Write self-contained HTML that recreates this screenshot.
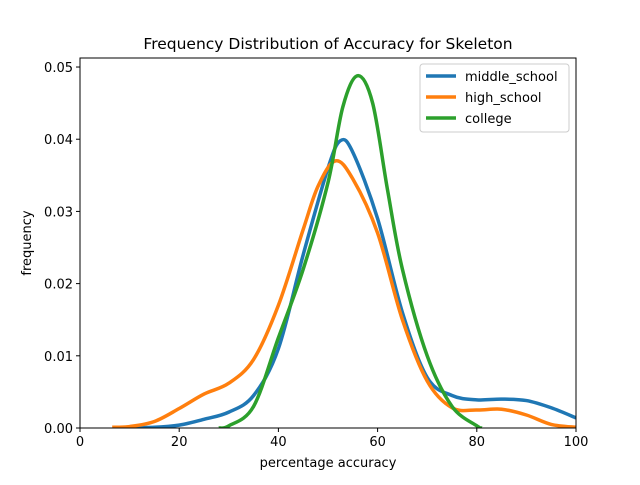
<!DOCTYPE html>
<html><head><meta charset="utf-8"><style>
body{margin:0;background:#fff;}
svg{font-family:"DejaVu Sans","Liberation Sans",sans-serif;}
</style></head><body>
<svg id="chart" width="640" height="480">
<rect width="640" height="480" fill="#fff"/>
<text x="328" y="49" text-anchor="middle" font-size="15.5">Frequency Distribution of Accuracy for Skeleton</text>
<g id="plot"></g>
<text x="328" y="467" text-anchor="middle" font-size="13">percentage accuracy</text>
<text transform="translate(31,243) rotate(-90)" text-anchor="middle" font-size="13">frequency</text>
</svg>
<script>
const xTicks=[0,20,40,60,80,100];
const yTicks=[0,0.01,0.02,0.03,0.04,0.05];
const yTickLabels=["0.00","0.01","0.02","0.03","0.04","0.05"];
const seriesNames=["middle_school","high_school","college"];
const seriesColors=["#1f77b4","#ff7f0e","#2ca02c"];
const middleX=[7,15,20,25,30,35,40,45,50,52.5,55,60,65,70,75,80,85,90,95,100];
const middleY=[0,0.0001,0.0004,0.0012,0.0022,0.0045,0.011,0.024,0.036,0.0398,0.0382,0.029,0.016,0.007,0.0045,0.0039,0.004,0.0038,0.0028,0.0014];
const highX=[6.5,10,15,20,25,30,35,40,45,48,51.5,55,60,65,70,75,80,85,90,95,100];
const highY=[0.0001,0.0002,0.0009,0.0027,0.0047,0.0062,0.0095,0.017,0.0275,0.0335,0.037,0.0345,0.027,0.015,0.0065,0.0028,0.0025,0.0026,0.0018,0.0005,0.0001];
const collegeX=[28,30,35,40,45,50,53,56,59,62,65,70,75,80,81];
const collegeY=[0,0.0003,0.003,0.0125,0.022,0.034,0.0445,0.0488,0.045,0.033,0.022,0.01,0.003,0.0003,0];
const L=80,R=576,T=58,B=428,YMAX=0.05125;
const sx=v=>L+(v/100)*(R-L);
const sy=v=>B-(v/YMAX)*(B-T);
const NS="http://www.w3.org/2000/svg";
const g=document.getElementById('plot');
function mk(t,a){const e=document.createElementNS(NS,t);for(const k in a)e.setAttribute(k,a[k]);return e;}
function path(xs,ys){const p=xs.map((x,i)=>[sx(x),sy(ys[i])]);let d="M"+p[0][0]+","+p[0][1];
for(let i=0;i<p.length-1;i++){const p0=p[Math.max(0,i-1)],p1=p[i],p2=p[i+1],p3=p[Math.min(p.length-1,i+2)];
const c1=[p1[0]+(p2[0]-p0[0])/6,p1[1]+(p2[1]-p0[1])/6],c2=[p2[0]-(p3[0]-p1[0])/6,p2[1]-(p3[1]-p1[1])/6];
d+=` C${c1[0]},${c1[1]} ${c2[0]},${c2[1]} ${p2[0]},${p2[1]}`;}return d;}
const clip=mk('clipPath',{id:'cp'});clip.appendChild(mk('rect',{x:L,y:T,width:R-L,height:B-T}));g.appendChild(clip);
const data=[[middleX,middleY],[highX,highY],[collegeX,collegeY]];
data.forEach((s,i)=>{const e=mk('path',{d:path(s[0],s[1]),fill:'none',stroke:seriesColors[i],'stroke-width':3.5,'clip-path':'url(#cp)'});


g.appendChild(e);});
const frame=mk('rect',{x:L,y:T,width:R-L,height:B-T,fill:'none',stroke:'#000','stroke-width':1});


g.appendChild(frame);
xTicks.forEach(v=>{const x=sx(v);g.appendChild(mk('line',{x1:x,x2:x,y1:B,y2:B+4,stroke:'#000'}));
const t=mk('text',{x:x,y:B+18,'text-anchor':'middle','font-size':13});t.textContent=v;


g.appendChild(t);});
yTicks.forEach((v,i)=>{const y=sy(v);g.appendChild(mk('line',{x1:L-4,x2:L,y1:y,y2:y,stroke:'#000'}));
const t=mk('text',{x:L-7,y:y+5,'text-anchor':'end','font-size':13});t.textContent=yTickLabels[i];


g.appendChild(t);});
const lg=mk('g',{});


lg.appendChild(mk('rect',{x:420,y:64,width:149,height:68,rx:3,fill:'#fff','fill-opacity':0.8,stroke:'#ccc'}));
seriesNames.forEach((n,i)=>{const y=76+i*21;
lg.appendChild(mk('line',{x1:426,x2:456,y1:y,y2:y,stroke:seriesColors[i],'stroke-width':3.5}));
const t=mk('text',{x:465,y:y+5,'font-size':13});t.textContent=n;


lg.appendChild(t);});
g.appendChild(lg);
</script>
</body></html>
